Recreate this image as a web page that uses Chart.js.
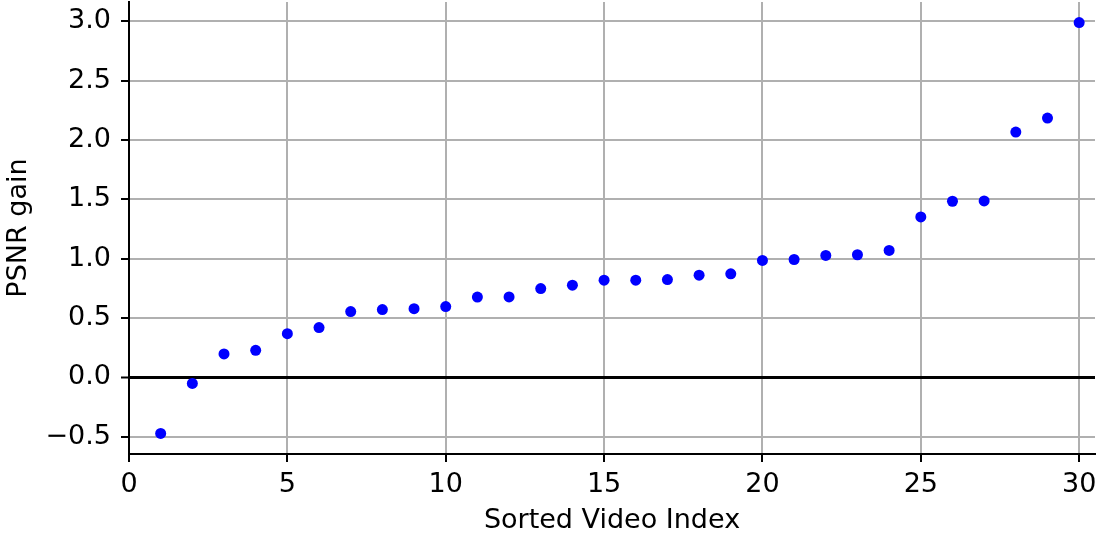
<!DOCTYPE html>
<html>
<head>
<meta charset="utf-8">
<script src="https://cdn.jsdelivr.net/npm/chart.js@4/dist/chart.umd.min.js"></script>
<style>
  html, body { margin: 0; padding: 0; background: #fff; }
  canvas { display: block; }
</style>
</head>
<body>
<canvas id="psnr" width="1100" height="538"></canvas>
<script>
// sorted per-video PSNR gain (dB), index 1..30
const videoIndex = [1, 2, 3, 4, 5, 6, 7, 8, 9, 10, 11, 12, 13, 14, 15,
                    16, 17, 18, 19, 20, 21, 22, 23, 24, 25, 26, 27, 28, 29, 30];
const psnrGain = [-0.473, -0.051, 0.197, 0.228, 0.368, 0.419, 0.554, 0.571, 0.579, 0.596,
                  0.676, 0.678, 0.748, 0.777, 0.819, 0.819, 0.824, 0.861, 0.872, 0.985,
                  0.993, 1.027, 1.033, 1.069, 1.352, 1.484, 1.487, 2.067, 2.185, 2.990];

const xTicks = [0, 5, 10, 15, 20, 25, 30];
const yTicks = [-0.5, 0.0, 0.5, 1.0, 1.5, 2.0, 2.5, 3.0];

// y limits get a 5% margin around the data, x runs 0..30.5
const yLo = Math.min(...psnrGain), yHi = Math.max(...psnrGain);
const yPad = 0.05 * (yHi - yLo);

Chart.defaults.font.family = '"DejaVu Sans", sans-serif';
Chart.defaults.font.size = 27;
Chart.defaults.color = '#000';

const points = videoIndex.map((x, i) => ({ x: x, y: psnrGain[i] }));

new Chart(document.getElementById('psnr'), {
  type: 'scatter',
  data: {
    datasets: [{
      data: points,
      backgroundColor: '#0000ff',
      borderWidth: 0,
      pointRadius: 5.5,
      pointHoverRadius: 5.5
    }]
  },
  options: {
    responsive: false,
    animation: false,
    layout: { autoPadding: false, padding: { top: 2, right: 5, left: 0, bottom: 0 } },
    plugins: { legend: { display: false }, tooltip: { enabled: false } },
    scales: {
      x: {
        type: 'linear',
        min: 0,
        max: 30.5,
        afterBuildTicks: s => { s.ticks = xTicks.map(v => ({ value: v })); },
        afterFit: s => {
          s.height = 84;
          // labels may overhang the plot edges, don't shrink the area for them
          s.paddingLeft = 0;
          s.paddingRight = 0;
        },
        grid: {
          color: '#b0b0b0',
          lineWidth: 2,
          tickColor: '#000',
          tickLength: 8,
          tickWidth: 2
        },
        border: { color: '#000', width: 2 },
        ticks: {
          padding: 7,
          maxRotation: 0,
          callback: v => String(v)
        },
        title: {
          display: true,
          text: 'Sorted Video Index',
          padding: { top: 0, bottom: 1 }
        }
      },
      y: {
        min: yLo - yPad,
        max: yHi + yPad,
        afterBuildTicks: s => { s.ticks = yTicks.map(v => ({ value: v })); },
        afterFit: s => {
          s.width = 129;
          s.paddingTop = 0;
          s.paddingBottom = 0;
        },
        grid: {
          // zero line is drawn heavier and black
          color: ctx => (ctx.tick && ctx.tick.value === 0) ? '#000' : '#b0b0b0',
          lineWidth: ctx => (ctx.tick && ctx.tick.value === 0) ? 3 : 2,
          tickColor: '#000',
          tickLength: 8,
          tickWidth: 2
        },
        border: { color: '#000', width: 2 },
        ticks: {
          padding: 10,
          callback: v => (v < 0 ? '\u2212' : '') + Math.abs(v).toFixed(1)
        },
        title: {
          display: true,
          text: 'PSNR gain',
          padding: { top: 3, bottom: 0 }
        }
      }
    }
  }
});
</script>
</body>
</html>
